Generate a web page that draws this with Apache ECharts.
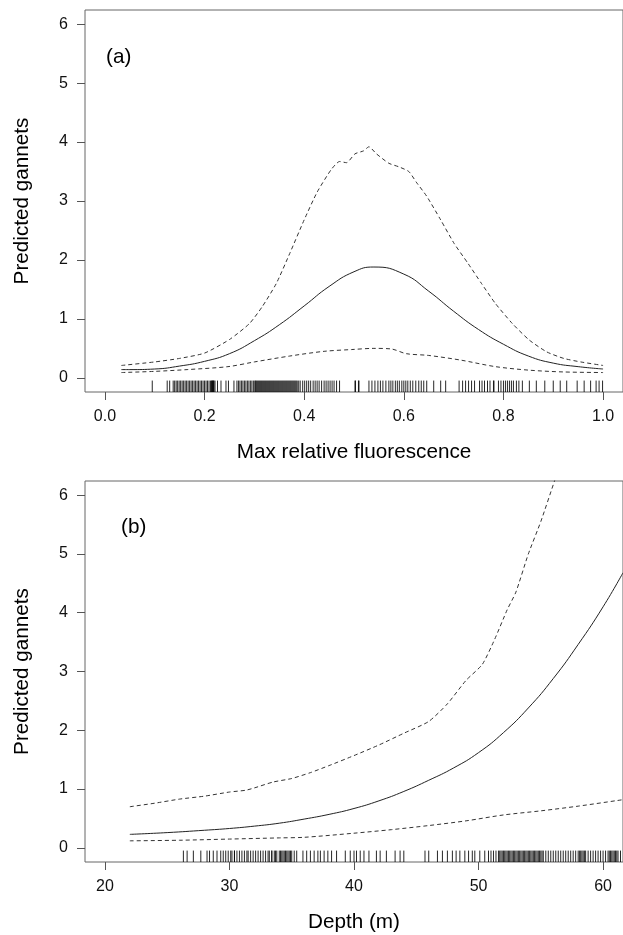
<!DOCTYPE html>
<html><head><meta charset="utf-8">
<script src="https://cdn.jsdelivr.net/npm/echarts@6/dist/echarts.min.js"></script>
<style>html,body{margin:0;padding:0;background:#fff}#c{width:623px;height:935px}</style>
</head><body><div id="c"></div><script>
// ---------- Panel (a): Max relative fluorescence ----------
const fluorFitX = [0.033,0.05,0.10,0.15,0.20,0.25,0.30,0.35,0.40,0.45,0.50,0.54,0.60,0.65,0.70,0.75,0.80,0.85,0.90,0.95,1.00];
const fluorFit  = [0.14,0.14,0.15,0.20,0.28,0.41,0.63,0.90,1.22,1.55,1.80,1.88,1.76,1.47,1.13,0.82,0.57,0.37,0.25,0.19,0.15];
const fluorUpperX = [0.033,0.10,0.15,0.20,0.25,0.29,0.316,0.344,0.371,0.40,0.426,0.454,0.471,0.485,0.502,0.519,0.53,0.545,0.57,0.59,0.61,0.625,0.646,0.674,0.701,0.729,0.756,0.784,0.818,0.852,0.887,0.921,0.955,1.0];
const fluorUpper  = [0.21,0.27,0.33,0.42,0.65,0.92,1.21,1.60,2.11,2.68,3.15,3.53,3.67,3.65,3.80,3.85,3.92,3.80,3.64,3.58,3.50,3.32,3.08,2.68,2.28,1.94,1.60,1.26,0.92,0.64,0.44,0.33,0.27,0.21];
const fluorLowerX = [0.033,0.10,0.165,0.247,0.30,0.371,0.44,0.495,0.54,0.575,0.605,0.65,0.715,0.784,0.852,0.921,1.0];
const fluorLower  = [0.09,0.11,0.14,0.19,0.27,0.37,0.45,0.48,0.50,0.49,0.41,0.38,0.30,0.19,0.13,0.10,0.09];
const fluorRug = [0.095,0.125,0.13,
 0.137,0.14,0.143,0.146,0.149,0.152,0.155,0.158,0.161,0.164,0.167,0.17,0.173,0.176,0.179,0.182,0.185,0.188,0.191,0.194,0.197,0.2,0.203,0.206,0.209,0.212,0.214,0.215,0.216,0.217,0.218,0.219,0.221,
 0.226,0.233,0.243,0.248,0.259,
 0.265,0.268,0.271,0.274,0.277,0.28,0.283,0.286,0.289,0.292,0.295,0.298,0.301,0.302,0.304,0.306,0.308,0.31,0.312,0.314,0.316,0.318,0.32,0.322,0.324,0.326,0.328,0.33,0.332,0.334,0.336,0.338,0.34,0.342,0.344,0.346,0.348,0.35,0.352,0.354,0.356,0.358,0.36,0.362,0.364,0.366,0.368,0.37,0.372,0.374,0.376,0.378,0.38,0.382,0.384,0.386,0.389,
 0.392,0.397,0.401,0.405,0.409,0.413,0.418,0.422,0.426,0.43,0.435,0.44,0.444,0.448,0.452,0.456,0.46,0.465,0.471,
 0.502,0.503,0.509,0.51,
 0.53,0.536,0.542,0.548,0.553,0.558,0.564,0.57,0.574,0.578,0.583,0.587,0.591,0.596,0.6,0.604,0.608,0.613,0.618,0.624,0.63,0.635,0.64,0.646,
 0.66,0.674,0.684,
 0.711,0.718,0.724,0.73,0.736,0.742,
 0.752,0.757,0.762,0.768,0.773,
 0.78,0.781,
 0.79,0.795,0.8,0.804,0.808,0.812,0.816,0.82,0.826,0.831,
 0.838,0.852,0.866,0.883,0.9,0.914,0.927,0.948,0.962,0.975,0.986,0.992,0.999];
const fluorTicks = [0.0,0.2,0.4,0.6,0.8,1.0];

// ---------- Panel (b): Depth ----------
const depthFitX = [22,25,28,30,32,34,36,38,40,42,44,46,48,50,52,54,56,58,60,61.6];
const depthFit  = [0.23,0.26,0.30,0.33,0.37,0.42,0.49,0.57,0.67,0.80,0.96,1.15,1.36,1.62,1.96,2.38,2.88,3.46,4.10,4.68];
const depthUpperX = [22,24,26,28,30,31.3,32,33.5,35,36.5,38,40,42,44,46,47.5,49,50.3,51.3,52.3,53,54,55,56.1,57];
const depthUpper  = [0.70,0.76,0.83,0.88,0.95,0.98,1.02,1.12,1.18,1.28,1.40,1.57,1.75,1.95,2.15,2.45,2.85,3.12,3.55,4.05,4.35,5.00,5.55,6.24,6.80];
const depthLowerX = [22,26,30,34,36,40,43,46,49,52,55,58,61.6];
const depthLower  = [0.12,0.13,0.15,0.17,0.18,0.25,0.31,0.38,0.46,0.56,0.63,0.71,0.82];
const depthRug = [26.3,26.6,27.1,27.7,28.2,28.4,28.7,29.0,
 29.3,29.5,29.7,29.9,30.1,30.2,30.4,30.4,
 30.6,30.8,31.0,31.2,31.4,31.5,31.7,31.9,32.1,32.3,32.5,32.7,32.9,33.1,33.2,
 33.4,33.4,33.6,33.7,
 33.8,34.0,34.1,34.2,34.3,34.4,34.5,34.6,34.7,34.8,34.9,35.0,35.2,35.4,
 35.9,36.2,36.5,36.8,37.1,37.3,37.6,37.9,38.2,38.6,
 39.3,39.7,40.0,40.2,40.5,40.8,41.2,41.8,42.1,42.6,43.3,43.7,44.0,
 45.7,46.0,46.7,47.1,47.5,47.9,48.2,48.5,48.9,49.2,49.5,49.7,50.1,50.5,
 50.8,51.0,51.2,51.4,51.6,51.7,51.8,51.9,52.0,52.1,52.2,52.3,52.4,52.5,52.6,52.7,52.8,52.9,53.0,53.1,53.2,53.3,53.4,53.5,53.6,53.7,53.8,53.9,54.0,54.1,54.2,54.3,54.4,54.5,54.6,54.7,54.8,54.9,55.0,55.1,55.2,
 55.4,55.6,55.8,56.0,56.2,56.4,56.6,56.8,57.0,57.2,57.4,57.6,57.8,58.0,58.1,58.2,58.3,58.4,58.5,58.6,58.8,59.0,59.2,59.4,59.6,59.8,60.0,60.2,60.4,60.5,60.6,60.7,60.8,60.9,61.0,61.1,61.2,61.4];
const depthTicks = [20,30,40,50,60];

const yTicks = [0,1,2,3,4,5,6];
const Y_MIN = -0.24, Y_MAX = 6.24, RUG_LEN = 0.194;

const FONT = "'Liberation Sans', Arial, sans-serif";
const zip = (xs, ys) => xs.map((x, i) => [x, ys[i]]);

function xAxisCfg(grid, min, max, ticks, fmt, name) {
  return {
    type: 'value', gridIndex: grid, min: min, max: max, position: 'bottom',
    axisLine: { show: false, onZero: false },
    axisTick: { show: true, customValues: ticks, length: 8, inside: false, lineStyle: { color: '#555', width: 1 } },
    axisLabel: { customValues: ticks, formatter: fmt, fontSize: 16, color: '#111', margin: 17, fontFamily: FONT },
    splitLine: { show: false },
    name: name, nameLocation: 'middle', nameGap: 50,
    nameTextStyle: { fontSize: 20.7, color: '#000', fontFamily: FONT }
  };
}
function yAxisCfg(grid) {
  return {
    type: 'value', gridIndex: grid, min: Y_MIN, max: Y_MAX, position: 'left',
    axisLine: { show: false, onZero: false },
    axisTick: { show: true, customValues: yTicks, length: 8, lineStyle: { color: '#555', width: 1 } },
    axisLabel: { customValues: yTicks, fontSize: 16, color: '#111', margin: 17, fontFamily: FONT },
    splitLine: { show: false },
    name: 'Predicted gannets', nameLocation: 'middle', nameGap: 52,
    nameTextStyle: { fontSize: 20.7, color: '#000', fontFamily: FONT }
  };
}
function lineSeries(idx, data, dashed, smooth) {
  return {
    type: 'line', xAxisIndex: idx, yAxisIndex: idx, data: data,
    showSymbol: false, symbol: 'none', smooth: smooth, clip: true, silent: true,
    lineStyle: { color: dashed ? '#333' : '#222', width: 1, type: dashed ? [4, 3] : 'solid' },
    z: 3
  };
}
function rugSeries(idx, vals) {
  return {
    type: 'custom', xAxisIndex: idx, yAxisIndex: idx, clip: true, silent: true,
    data: vals.map(v => [v, Y_MIN]),
    encode: { x: 0, y: 1 },
    renderItem: function (params, api) {
      const x = api.value(0);
      const p0 = api.coord([x, Y_MIN]);
      const p1 = api.coord([x, Y_MIN + RUG_LEN]);
      return { type: 'line', shape: { x1: p0[0], y1: p0[1], x2: p1[0], y2: p1[1] },
        style: { stroke: 'rgba(0,0,0,0.85)', lineWidth: 1 } };
    },
    z: 2
  };
}

const chart = echarts.init(document.getElementById('c'), null, { renderer: 'canvas' });
chart.setOption({
  animation: false,
  backgroundColor: '#fff',
  textStyle: { fontFamily: FONT },
  grid: [
    { left: 85, top: 10, width: 540, height: 382, show: true, borderColor: '#666', borderWidth: 1, backgroundColor: 'transparent' },
    { left: 85, top: 481, width: 540, height: 381, show: true, borderColor: '#666', borderWidth: 1, backgroundColor: 'transparent' }
  ],
  title: [
    { text: '(a)', left: 101, top: 42, textStyle: { fontSize: 20.7, fontWeight: 'normal', color: '#000', fontFamily: FONT } },
    { text: '(b)', left: 116, top: 512, textStyle: { fontSize: 20.7, fontWeight: 'normal', color: '#000', fontFamily: FONT } }
  ],
  xAxis: [
    xAxisCfg(0, -0.04, 1.04, fluorTicks, v => Number(v).toFixed(1), 'Max relative fluorescence'),
    xAxisCfg(1, 18.4, 61.6, depthTicks, v => String(v), 'Depth (m)')
  ],
  yAxis: [yAxisCfg(0), yAxisCfg(1)],
  series: [
    rugSeries(0, fluorRug),
    lineSeries(0, zip(fluorFitX, fluorFit), false, true),
    lineSeries(0, zip(fluorUpperX, fluorUpper), true, 0.2),
    lineSeries(0, zip(fluorLowerX, fluorLower), true, 0.3),
    rugSeries(1, depthRug),
    lineSeries(1, zip(depthFitX, depthFit), false, true),
    lineSeries(1, zip(depthUpperX, depthUpper), true, 0.2),
    lineSeries(1, zip(depthLowerX, depthLower), true, 0.3)
  ]
});
</script></body></html>
